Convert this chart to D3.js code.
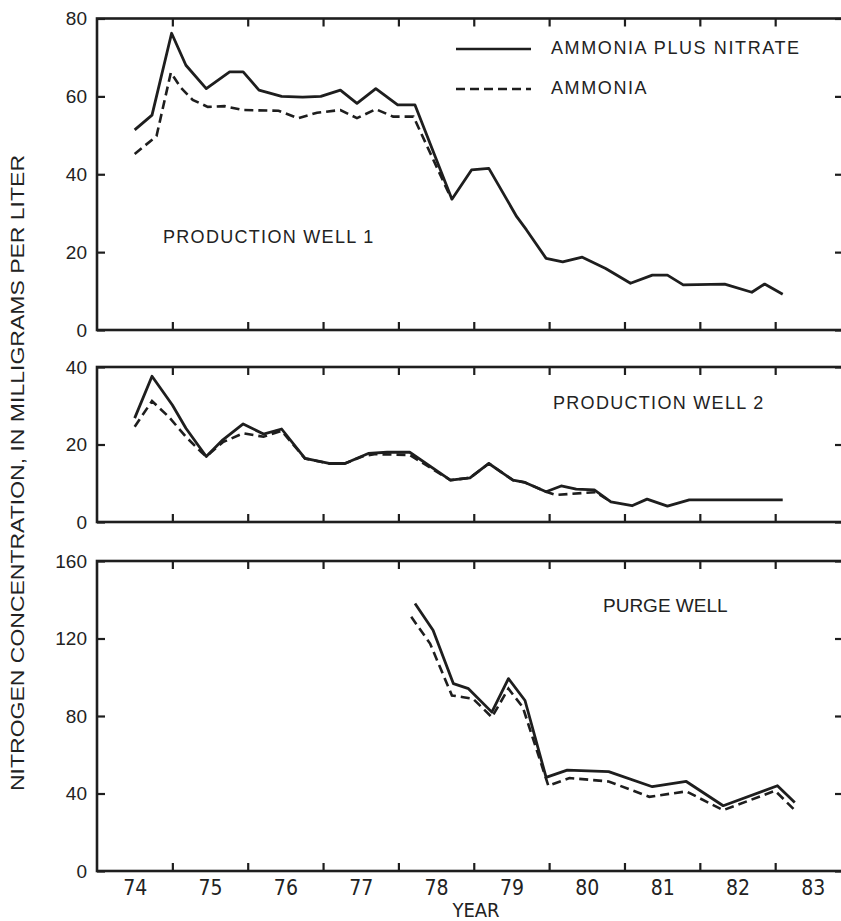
<!DOCTYPE html>
<html>
<head>
<meta charset="utf-8">
<script src="https://cdn.jsdelivr.net/npm/d3@7"></script>
<style>
  body { margin: 0; background: #fff; }
  svg text { fill: #222; font-family: "Liberation Sans", Arial, sans-serif; }
  .narrow { font-family: "Liberation Sans Narrow", "DejaVu Sans Condensed", sans-serif; }
</style>
</head>
<body>
<svg id="chart"></svg>
<script>
'use strict';

let WIDTH = 841;
let HEIGHT = 921;
let INK = '#1e1e1e';

// years (decimal) and nitrogen, mg/L
let well1Years = [1974.50, 1974.73, 1974.99, 1975.18, 1975.45, 1975.76, 1975.94, 1976.15, 1976.45, 1976.73, 1976.97,
    1977.23, 1977.45, 1977.70, 1977.99, 1978.22, 1978.71, 1978.97, 1979.20, 1979.57, 1979.70, 1979.96, 1980.18,
    1980.44, 1980.75, 1981.08, 1981.37, 1981.57, 1981.78, 1982.33, 1982.69, 1982.86, 1983.10];
let well1Total = [51.4, 55.2, 76.2, 68.0, 62.0, 66.3, 66.3, 61.6, 60.0, 59.8, 60.0,
    61.6, 58.2, 62.0, 57.8, 57.8, 33.6, 41.1, 41.5, 29.1, 25.7, 18.4, 17.5,
    18.7, 15.8, 12.0, 14.1, 14.1, 11.6, 11.8, 9.7, 11.8, 9.2];
let well1AmmYears = [1974.50, 1974.79, 1974.98, 1975.11, 1975.27, 1975.47, 1975.69, 1975.94, 1976.41, 1976.67,
    1976.92, 1977.23, 1977.45, 1977.70, 1977.93, 1978.20, 1978.69];
let well1Ammonia = [45.2, 49.8, 66.1, 62.3, 59.1, 57.3, 57.5, 56.5, 56.3, 54.4,
    55.8, 56.5, 54.4, 56.7, 54.8, 54.8, 34.2];

let well2Years = [1974.50, 1974.73, 1975.00, 1975.18, 1975.45, 1975.67, 1975.94, 1976.21, 1976.45, 1976.76,
    1977.08, 1977.29, 1977.60, 1977.85, 1978.15, 1978.69, 1978.95, 1979.20, 1979.52, 1979.68, 1979.96,
    1980.16, 1980.36, 1980.60, 1980.82, 1981.10, 1981.30, 1981.57, 1981.86, 1983.10];
let well2Total = [26.8, 37.6, 30.2, 24.2, 16.9, 21.2, 25.3, 22.7, 24.0, 16.4,
    15.1, 15.1, 17.7, 18.0, 18.0, 10.8, 11.4, 15.1, 10.8, 10.2, 7.8,
    9.3, 8.5, 8.3, 5.2, 4.2, 5.9, 4.1, 5.7, 5.7];
let well2AmmYears = [1974.50, 1974.73, 1974.95, 1975.18, 1975.38, 1975.45, 1975.67, 1975.94, 1976.21, 1976.45,
    1976.76, 1977.08, 1977.29, 1977.52, 1977.68, 1978.15, 1978.69, 1978.95, 1979.20, 1979.52, 1979.68,
    1979.96, 1980.09, 1980.62, 1980.82];
let well2Ammonia = [24.6, 31.2, 27.2, 22.0, 18.1, 16.9, 20.6, 22.9, 22.0, 23.5,
    16.4, 15.1, 15.1, 16.9, 17.5, 17.3, 10.8, 11.4, 15.1, 10.8, 10.2,
    7.8, 7.0, 7.7, 5.2];

let purgeYears = [1978.22, 1978.46, 1978.73, 1978.93, 1979.24, 1979.46, 1979.68, 1979.96, 1980.24, 1980.79,
    1981.37, 1981.82, 1982.31, 1983.03, 1983.26];
let purgeTotal = [138.1, 124.3, 96.7, 94.1, 82.0, 99.3, 88.0, 48.3, 52.1, 51.3,
    43.5, 46.2, 33.7, 44.0, 35.4];
let purgeAmmYears = [1978.17, 1978.42, 1978.71, 1978.86, 1978.99, 1979.24, 1979.46, 1979.65, 1979.99, 1980.27,
    1980.79, 1980.88, 1981.33, 1981.82, 1982.31, 1983.00, 1983.26];
let purgeAmmonia = [131.2, 117.4, 90.6, 89.7, 88.9, 79.4, 94.1, 84.6, 44.0, 48.0,
    46.2, 44.9, 38.3, 41.1, 31.4, 41.4, 31.4];

let yearTicks = [1975, 1976, 1977, 1978, 1979, 1980, 1981, 1982, 1983];
let yearLabels = [1974, 1975, 1976, 1977, 1978, 1979, 1980, 1981, 1982, 1983];

let svg = d3.select('#chart').attr('width', WIDTH).attr('height', HEIGHT);

let x = d3.scaleLinear().domain([1974, 1983.9]).range([97, 843]);

let line = function(y) {
    return d3.line().x(function(d) { return x(d[0]); }).y(function(d) { return y(d[1]); });
};

function styleAxis(sel) {
    sel.select('.domain').remove();
    sel.selectAll('.tick line').attr('stroke', INK).attr('stroke-width', 2.2);
}

function drawPanel(p) {
    let y = d3.scaleLinear().domain([0, p.max]).range([p.bottom, p.top]);
    let g = svg.append('g');

    // ticks: all inward, on four sides
    g.append('g').attr('transform', 'translate(' + x.range()[0] + ',0)')
        .call(d3.axisLeft(y).tickValues(p.ticks).tickSize(-8).tickPadding(10).tickFormat(d3.format('d')))
        .call(styleAxis)
        .selectAll('text').style('font-size', '19px');
    g.append('g').attr('transform', 'translate(' + x.range()[1] + ',0)')
        .call(d3.axisRight(y).tickValues(p.ticks).tickSize(-8).tickFormat(''))
        .call(styleAxis);
    g.append('g').attr('transform', 'translate(0,' + p.top + ')')
        .call(d3.axisTop(x).tickValues(yearTicks).tickSize(-8).tickFormat(''))
        .call(styleAxis);
    g.append('g').attr('transform', 'translate(0,' + p.bottom + ')')
        .call(d3.axisBottom(x).tickValues(yearTicks).tickSize(-8).tickFormat(''))
        .call(styleAxis);

    g.append('rect')
        .attr('x', x.range()[0]).attr('y', p.top)
        .attr('width', x.range()[1] - x.range()[0]).attr('height', p.bottom - p.top)
        .attr('fill', 'none').attr('stroke', INK).attr('stroke-width', 2.6);

    g.append('path')
        .datum(d3.zip(p.ammYears, p.ammonia))
        .attr('d', line(y))
        .attr('fill', 'none').attr('stroke', INK).attr('stroke-width', 2.6)
        .attr('stroke-dasharray', '9,5');
    g.append('path')
        .datum(d3.zip(p.years, p.total))
        .attr('d', line(y))
        .attr('fill', 'none').attr('stroke', INK).attr('stroke-width', 2.8)
        .attr('stroke-linejoin', 'round');

    g.append('text')
        .attr('x', p.labelX).attr('y', p.labelY)
        .attr('dominant-baseline', 'middle')
        .style('font-size', p.labelSize + 'px')
        .style('letter-spacing', p.labelSpacing + 'px')
        .text(p.name);
    return g;
}

drawPanel({ name: 'PRODUCTION WELL 1', top: 18.5, bottom: 330, max: 80, ticks: [0, 20, 40, 60, 80],
    years: well1Years, total: well1Total, ammYears: well1AmmYears, ammonia: well1Ammonia,
    labelX: 163, labelY: 238, labelSize: 18, labelSpacing: 1.3 });
drawPanel({ name: 'PRODUCTION WELL 2', top: 367, bottom: 522, max: 40, ticks: [0, 20, 40],
    years: well2Years, total: well2Total, ammYears: well2AmmYears, ammonia: well2Ammonia,
    labelX: 553, labelY: 404, labelSize: 18, labelSpacing: 1.3 });
drawPanel({ name: 'PURGE WELL', top: 561, bottom: 871, max: 160, ticks: [0, 40, 80, 120, 160],
    years: purgeYears, total: purgeTotal, ammYears: purgeAmmYears, ammonia: purgeAmmonia,
    labelX: 603, labelY: 607, labelSize: 19, labelSpacing: 0 });

// year labels sit in the middle of each year
svg.append('g').attr('transform', 'translate(0,871)')
    .call(d3.axisBottom(x).tickValues(yearLabels.map(function(d) { return d + 0.5; }))
        .tickSize(0).tickPadding(9).tickFormat(function(d) { return String(Math.floor(d)).slice(2); }))
    .call(function(sel) { sel.select('.domain').remove(); })
    .selectAll('text').attr('class', 'narrow').style('font-size', '21px');

svg.append('text').attr('class', 'narrow')
    .attr('x', 476).attr('y', 917).attr('text-anchor', 'middle')
    .style('font-size', '20px').text('YEAR');

svg.append('text')
    .attr('transform', 'translate(19,473) rotate(-90)')
    .attr('text-anchor', 'middle').attr('dominant-baseline', 'middle')
    .attr('textLength', 636).attr('lengthAdjust', 'spacingAndGlyphs')
    .style('font-size', '18px')
    .text('NITROGEN CONCENTRATION, IN MILLIGRAMS PER LITER');

// legend
let legend = svg.append('g');
let legendItems = [
    { label: 'AMMONIA PLUS NITRATE', dash: null, y: 49 },
    { label: 'AMMONIA', dash: '9,5', y: 89 }
];
legendItems.forEach(function(d) {
    legend.append('line')
        .attr('x1', 456).attr('x2', 531).attr('y1', d.y).attr('y2', d.y)
        .attr('stroke', INK).attr('stroke-width', 2.5).attr('stroke-dasharray', d.dash);
    legend.append('text')
        .attr('x', 551).attr('y', d.y).attr('dominant-baseline', 'middle')
        .style('font-size', '18px').style('letter-spacing', '1.6px')
        .text(d.label);
});
</script>
</body>
</html>
